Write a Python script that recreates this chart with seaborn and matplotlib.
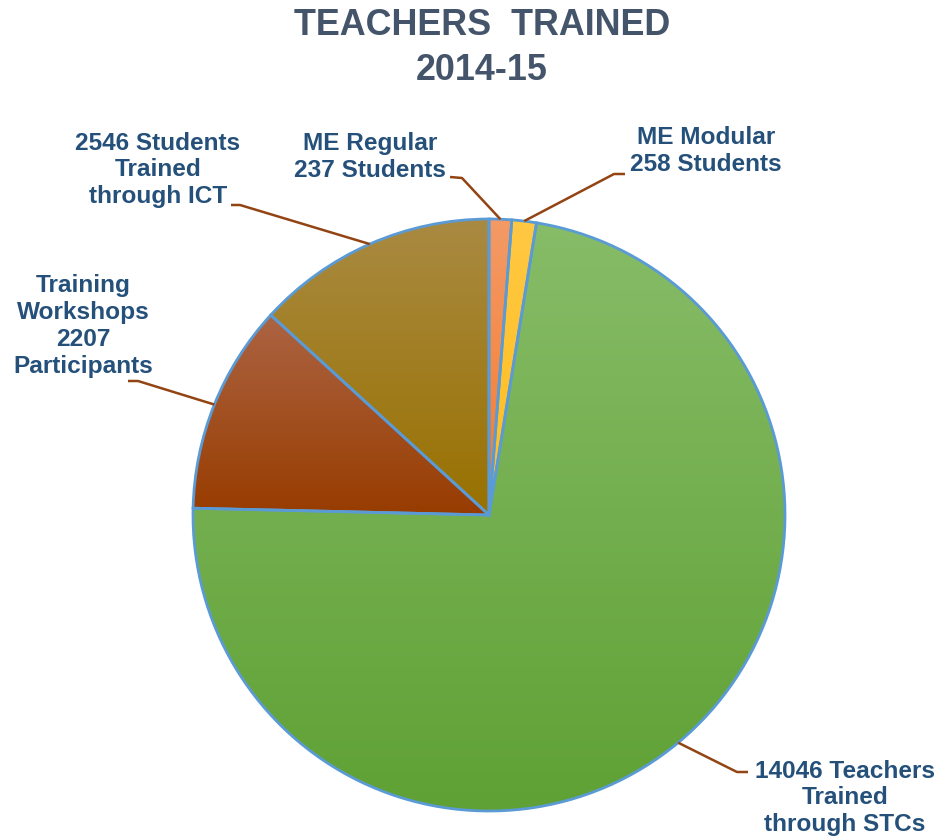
import numpy as np
import matplotlib
matplotlib.use("Agg")
import matplotlib.pyplot as plt
from matplotlib.colors import to_rgb
import seaborn as sns

# ---------------- data ----------------
categories = ["ME Regular", "ME Modular", "Teachers Trained through STCs",
              "Training Workshops", "Students Trained through ICT"]
values = [237, 258, 14046, 2207, 2546]
labels = ["ME Regular\n237 Students",
          "ME Modular\n258 Students",
          "14046 Teachers\nTrained\nthrough STCs",
          "Training\nWorkshops\n2207\nParticipants",
          "2546 Students\nTrained\nthrough ICT"]
title = "TEACHERS  TRAINED\n2014-15"

# gradient colours (top, bottom) per slice
top_colors = ["#F39A66", "#FFC843", "#87BC68", "#AC6443", "#A98A42"]
bottom_colors = ["#F47B2C", "#FFBE1E", "#5FA134", "#983C00", "#997100"]

# ---------------- layout (pixel coords) ----------------
W, H = 938, 836
center_px = (489, 515)
radius_px = 296
label_pos_px = [(370, 157), (706, 151), (845, 798), (83, 326), (158, 170)]
elbow_px = [[(450, 177), (462, 178)],
            [(625, 174), (614, 174)],
            [(748, 772), (737, 772)],
            [(128, 381), (138, 381)],
            [(231, 205), (240, 205)]]

sns.set_theme(style="white")
plt.rcParams["font.family"] = ["Liberation Sans", "DejaVu Sans"]

TEXT_C = "#24507A"
TITLE_C = "#44546A"
LEAD_C = "#934413"
EDGE_C = "#5B9BD5"

fig = plt.figure(figsize=(W / 100, H / 100), dpi=100)
ax = fig.add_axes([0, 0, 1, 1])
ax.set_xlim(0, W)
ax.set_ylim(0, H)
ax.axis("off")

def py(y):
    return H - y

cx, cy = center_px[0], py(center_px[1])
wedges, _ = ax.pie(values, colors=bottom_colors, startangle=90, counterclock=False,
                   center=(cx, cy), radius=radius_px, frame=True,
                   wedgeprops=dict(edgecolor=EDGE_C, linewidth=2.0))

for w, ct, cb in zip(wedges, top_colors, bottom_colors):
    verts = w.get_path().vertices
    x0, y0 = verts.min(axis=0)
    x1, y1 = verts.max(axis=0)
    t = np.linspace(0, 1, 256)[:, None]
    grad = (1 - t) * np.array(to_rgb(ct)) + t * np.array(to_rgb(cb))
    grad = grad[:, None, :]
    im = ax.imshow(grad, extent=(x0, x1, y0, y1), origin="upper",
                   aspect="auto", zorder=2, interpolation="bilinear")
    im.set_clip_path(w)
    w.set_facecolor("none")
    w.set_zorder(3)

ax.set_xlim(0, W)
ax.set_ylim(0, H)
ax.set_aspect("equal")
ax.axis("off")

# labels and leader lines
for w, lab, (lx, ly), elb in zip(wedges, labels, label_pos_px, elbow_px):
    mid = np.deg2rad((w.theta1 + w.theta2) / 2)
    ex = cx + radius_px * np.cos(mid)
    ey = cy + radius_px * np.sin(mid)
    xs = [elb[0][0], elb[1][0], ex]
    ys = [py(elb[0][1]), py(elb[1][1]), ey]
    ax.plot(xs, ys, color=LEAD_C, lw=1.8, zorder=4, solid_capstyle="butt")
    ax.text(lx, py(ly), lab, ha="center", va="center", multialignment="center",
            fontsize=17.6, fontweight="bold", color=TEXT_C, linespacing=1.22, zorder=5)

ax.text(482, py(48), title, ha="center", va="center", multialignment="center",
        fontsize=25.8, fontweight="bold", color=TITLE_C, linespacing=1.35)

fig.savefig("out.png", dpi=100)
